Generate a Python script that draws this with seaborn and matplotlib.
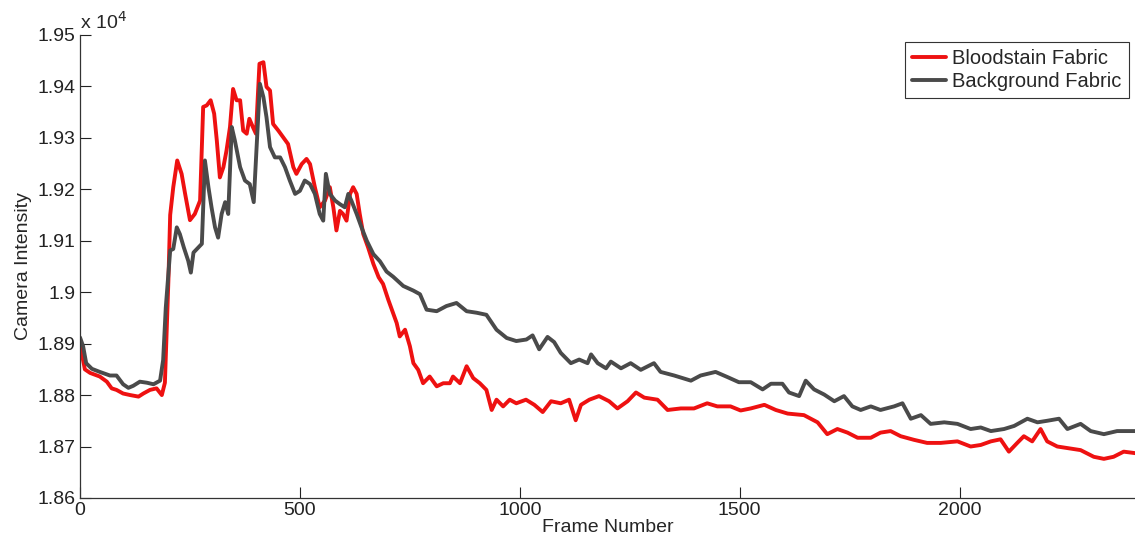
import numpy as np
import pandas as pd
import matplotlib
matplotlib.use("Agg")
import matplotlib.pyplot as plt
import seaborn as sns
from matplotlib.ticker import FuncFormatter, FixedLocator

# ---------------- data ----------------
red_frames = [0, 11, 23, 45, 61, 72, 83, 98, 114, 133, 144, 159, 174, 186, 193, 197, 201, 205,
              212, 221, 231, 239, 250, 261, 273, 280, 288, 297, 305, 311, 318, 326, 333, 341,
              348, 356, 364, 371, 379, 385, 393, 400, 408, 417, 424, 432, 439, 451, 462, 473,
              485, 492, 504, 515, 523, 534, 545, 557, 568, 576, 583, 591, 598, 606, 614, 621,
              629, 636, 644, 655, 667, 679, 689, 701, 720, 727, 739, 750, 758, 769, 780, 795,
              811, 826, 841, 848, 864, 879, 894, 909, 924, 936, 947, 962, 977, 992, 1014, 1033,
              1052, 1071, 1093, 1112, 1127, 1139, 1158, 1180, 1203, 1222, 1245, 1264, 1283,
              1313, 1336, 1366, 1396, 1426, 1449, 1479, 1502, 1525, 1556, 1582, 1609, 1646,
              1677, 1699, 1722, 1745, 1768, 1798, 1820, 1843, 1866, 1896, 1926, 1957, 1995,
              2025, 2048, 2071, 2093, 2112, 2131, 2146, 2165, 2184, 2199, 2222, 2245, 2275,
              2305, 2328, 2350, 2373, 2400]
red_values = [18899, 18850, 18843, 18836, 18826, 18813, 18810, 18803, 18800, 18797, 18803, 18810,
              18813, 18800, 18824, 18922, 19024, 19150, 19204, 19256, 19230, 19191, 19140, 19152,
              19178, 19360, 19363, 19373, 19347, 19295, 19223, 19243, 19275, 19321, 19395, 19373,
              19373, 19314, 19308, 19337, 19321, 19308, 19444, 19447, 19399, 19392, 19327, 19314,
              19301, 19288, 19243, 19230, 19249, 19259, 19249, 19204, 19165, 19178, 19204, 19165,
              19120, 19158, 19152, 19139, 19191, 19204, 19191, 19152, 19113, 19087, 19055, 19029,
              19016, 18985, 18940, 18914, 18927, 18895, 18862, 18849, 18823, 18836, 18817, 18823,
              18823, 18836, 18823, 18856, 18833, 18823, 18810, 18771, 18791, 18778, 18791, 18784,
              18791, 18781, 18767, 18788, 18784, 18791, 18751, 18781, 18791, 18798, 18788, 18774,
              18788, 18805, 18795, 18791, 18771, 18774, 18774, 18784, 18778, 18778, 18770, 18774,
              18781, 18771, 18764, 18761, 18747, 18724, 18734, 18727, 18717, 18717, 18727, 18730,
              18720, 18713, 18707, 18707, 18710, 18700, 18703, 18710, 18714, 18690, 18707, 18720,
              18710, 18734, 18710, 18700, 18697, 18693, 18680, 18676, 18680, 18690, 18687]

gray_frames = [0, 7, 14, 27, 45, 68, 83, 98, 110, 121, 136, 152, 167, 182, 189, 195, 205, 212,
               220, 227, 236, 246, 252, 258, 269, 277, 284, 292, 299, 307, 314, 322, 330, 337,
               345, 352, 364, 375, 386, 395, 402, 409, 417, 424, 432, 443, 455, 466, 477, 489,
               500, 511, 523, 534, 545, 553, 559, 568, 580, 591, 602, 610, 617, 629, 640, 652,
               667, 682, 697, 712, 735, 758, 773, 788, 811, 833, 856, 879, 902, 924, 947, 970,
               992, 1015, 1029, 1044, 1063, 1078, 1093, 1116, 1135, 1154, 1162, 1177, 1196, 1207,
               1230, 1252, 1275, 1305, 1320, 1351, 1389, 1411, 1445, 1472, 1498, 1525, 1552, 1571,
               1597, 1612, 1635, 1650, 1669, 1692, 1715, 1737, 1756, 1775, 1798, 1820, 1851, 1870,
               1889, 1912, 1934, 1965, 1995, 2025, 2048, 2071, 2101, 2124, 2154, 2177, 2199, 2226,
               2245, 2275, 2298, 2328, 2358, 2400]
gray_values = [18912, 18895, 18862, 18851, 18845, 18838, 18838, 18821, 18814, 18818, 18826, 18824,
               18821, 18828, 18868, 18970, 19081, 19084, 19126, 19113, 19087, 19061, 19038, 19077,
               19087, 19094, 19256, 19204, 19165, 19126, 19106, 19152, 19175, 19152, 19321, 19295,
               19243, 19217, 19210, 19175, 19288, 19405, 19379, 19340, 19282, 19262, 19262, 19243,
               19217, 19191, 19197, 19217, 19210, 19191, 19152, 19139, 19230, 19191, 19178, 19171,
               19165, 19191, 19178, 19152, 19126, 19100, 19074, 19060, 19040, 19030, 19012, 19003,
               18996, 18966, 18963, 18973, 18979, 18963, 18960, 18956, 18927, 18911, 18905, 18908,
               18916, 18889, 18913, 18903, 18882, 18862, 18869, 18862, 18879, 18862, 18852, 18865,
               18852, 18862, 18849, 18862, 18845, 18838, 18828, 18838, 18845, 18835, 18825, 18825,
               18811, 18822, 18822, 18805, 18798, 18828, 18811, 18801, 18788, 18798, 18778, 18771,
               18778, 18771, 18778, 18784, 18754, 18761, 18744, 18747, 18744, 18734, 18737, 18730,
               18734, 18740, 18754, 18747, 18750, 18754, 18734, 18744, 18730, 18724, 18730, 18730]

series_names = ["Bloodstain Fabric", "Background Fabric"]
series_colors = ["#ee1111", "#4a4a4a"]
x_ticks = [0, 500, 1000, 1500, 2000]
y_ticks = [18600, 18700, 18800, 18900, 19000, 19100, 19200, 19300, 19400, 19500]

df = pd.concat([
    pd.DataFrame({"Frame": red_frames, "Intensity": red_values, "Series": series_names[0]}),
    pd.DataFrame({"Frame": gray_frames, "Intensity": gray_values, "Series": series_names[1]}),
], ignore_index=True)

# ---------------- style ----------------
sns.set_style("white")
plt.rcParams["font.family"] = ["Liberation Sans", "DejaVu Sans"]
plt.rcParams["font.size"] = 14

fig = plt.figure(figsize=(11.35, 5.46), dpi=100)
ax = fig.add_axes([0.0705, 0.088, 0.93, 0.848])

sns.lineplot(data=df, x="Frame", y="Intensity", hue="Series", hue_order=series_names,
             palette=dict(zip(series_names, series_colors)), linewidth=2.8,
             estimator=None, sort=False, ax=ax)

ax.set_xlim(0, 2400)
ax.set_ylim(18600, 19500)
ax.xaxis.set_major_locator(FixedLocator(x_ticks))
ax.yaxis.set_major_locator(FixedLocator(y_ticks))
ax.yaxis.set_major_formatter(FuncFormatter(lambda v, p: f"{v/1e4:g}"))
ax.tick_params(direction="in", length=8, width=0.8, colors="#222222", labelsize=14,
               left=True, bottom=True, pad=3)
for s in ["top", "right"]:
    ax.spines[s].set_visible(False)
for s in ["left", "bottom"]:
    ax.spines[s].set_color("#333333")
    ax.spines[s].set_linewidth(0.9)

ax.set_xlabel("Frame Number", fontsize=14, labelpad=0)
ax.set_ylabel("Camera Intensity", fontsize=14, labelpad=4)
ax.text(0.0, 1.004, r"x 10$^4$", transform=ax.transAxes, fontsize=14,
        ha="left", va="bottom")

leg = ax.legend(loc="upper right", bbox_to_anchor=(1.0, 1.0), frameon=True, fancybox=False,
                shadow=False, framealpha=1, edgecolor="#333333", fontsize=14.5,
                handlelength=1.7, handletextpad=0.3, borderpad=0.35, labelspacing=0.2,
                borderaxespad=0.35)
leg.get_frame().set_linewidth(0.8)

fig.savefig("out.png", dpi=100)
